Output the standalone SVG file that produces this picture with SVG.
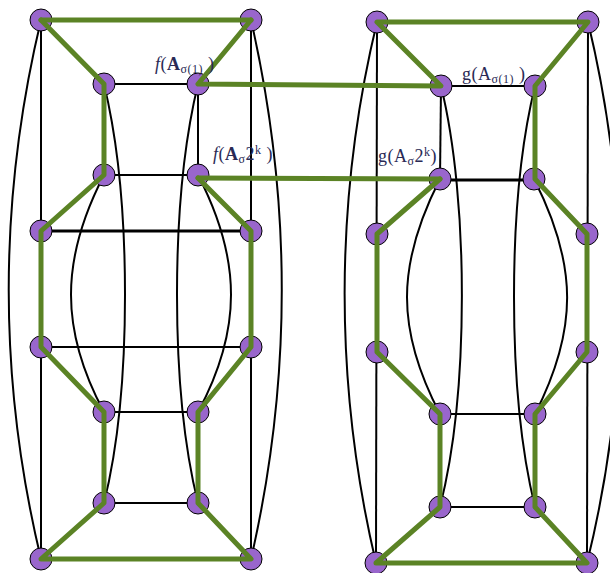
<svg xmlns="http://www.w3.org/2000/svg" width="610" height="573" viewBox="0 0 610 573">
<style>
.e{fill:none;stroke:#000;stroke-width:2}
.t{stroke-width:3}
.g{fill:none;stroke:#5b8325;stroke-width:5;stroke-linecap:round;stroke-linejoin:round}
.n{fill:#9966cc;stroke:#000;stroke-width:1}
.lb{font-family:"Liberation Serif",serif;font-size:18px;fill:#2a2a55;letter-spacing:0.5px}
.s{font-size:12px}
</style>
<rect width="610" height="573" fill="#fff"/>
<g id="edges">
<!-- left graph -->
<line class="e" x1="41" y1="20" x2="41" y2="559"/>
<line class="e" x1="251" y1="20" x2="251" y2="559"/>
<path class="e" d="M41,20 C-2,200 -2,380 41,559"/>
<path class="e" d="M251,20 C292,200 292,380 251,559"/>
<path class="e" d="M104,84 C132,200 132,390 104,503"/>
<path class="e" d="M104,175 C60,260 60,330 104,412"/>
<path class="e" d="M198,84 C170,200 170,390 198,503"/>
<path class="e" d="M198,175 C242,260 242,330 198,412"/>
<line class="e" x1="198" y1="84" x2="198" y2="175"/>
<line class="e" x1="104" y1="84" x2="198" y2="84"/>
<line class="e" x1="104" y1="175" x2="198" y2="175"/>
<line class="e t" x1="41" y1="231" x2="251" y2="231"/>
<line class="e" x1="41" y1="347" x2="251" y2="347"/>
<line class="e" x1="104" y1="412" x2="198" y2="412"/>
<line class="e" x1="104" y1="503" x2="198" y2="503"/>
<!-- right graph -->
<line class="e" x1="377" y1="22" x2="376" y2="563"/>
<line class="e" x1="588" y1="22" x2="587" y2="563"/>
<path class="e" d="M377,22 C334,200 334,385 376,563"/>
<path class="e" d="M588,22 C631,200 631,385 587,563"/>
<path class="e" d="M441,86 C469,200 469,393 440,507"/>
<path class="e" d="M440,179 C396,265 396,330 440,414"/>
<path class="e" d="M535,86 C507,200 507,393 535,507"/>
<path class="e" d="M534,179 C578,265 578,330 535,414"/>
<line class="e" x1="441" y1="86" x2="440" y2="179"/>
<line class="e" x1="441" y1="86" x2="535" y2="86"/>
<line class="e t" x1="440" y1="180" x2="534" y2="180"/>
<line class="e" x1="440" y1="414" x2="535" y2="414"/>
<line class="e" x1="440" y1="507" x2="535" y2="507"/>
</g>
<g id="nodes">
<g id="L1"><circle class="n" cx="41" cy="20" r="11"/></g>
<g id="L2"><circle class="n" cx="251" cy="20" r="11"/></g>
<g id="L3"><circle class="n" cx="104" cy="84" r="11"/></g>
<g id="L4"><circle class="n" cx="198" cy="84" r="11"/></g>
<g id="L5"><circle class="n" cx="104" cy="175" r="11"/></g>
<g id="L6"><circle class="n" cx="198" cy="175" r="11"/></g>
<g id="L7"><circle class="n" cx="41" cy="231" r="11"/></g>
<g id="L8"><circle class="n" cx="251" cy="231" r="11"/></g>
<g id="L9"><circle class="n" cx="41" cy="347" r="11"/></g>
<g id="L10"><circle class="n" cx="251" cy="347" r="11"/></g>
<g id="L11"><circle class="n" cx="104" cy="412" r="11"/></g>
<g id="L12"><circle class="n" cx="198" cy="412" r="11"/></g>
<g id="L13"><circle class="n" cx="104" cy="503" r="11"/></g>
<g id="L14"><circle class="n" cx="198" cy="503" r="11"/></g>
<g id="L15"><circle class="n" cx="41" cy="559" r="11"/></g>
<g id="L16"><circle class="n" cx="251" cy="559" r="11"/></g>
<g id="R1"><circle class="n" cx="377" cy="22" r="11"/></g>
<g id="R2"><circle class="n" cx="588" cy="22" r="11"/></g>
<g id="R3"><circle class="n" cx="441" cy="86" r="11"/></g>
<g id="R4"><circle class="n" cx="535" cy="86" r="11"/></g>
<g id="R5"><circle class="n" cx="440" cy="179" r="11"/></g>
<g id="R6"><circle class="n" cx="534" cy="179" r="11"/></g>
<g id="R7"><circle class="n" cx="377" cy="234" r="11"/></g>
<g id="R8"><circle class="n" cx="587" cy="234" r="11"/></g>
<g id="R9"><circle class="n" cx="377" cy="352" r="11"/></g>
<g id="R10"><circle class="n" cx="587" cy="352" r="11"/></g>
<g id="R11"><circle class="n" cx="440" cy="414" r="11"/></g>
<g id="R12"><circle class="n" cx="535" cy="414" r="11"/></g>
<g id="R13"><circle class="n" cx="440" cy="507" r="11"/></g>
<g id="R14"><circle class="n" cx="535" cy="507" r="11"/></g>
<g id="R15"><circle class="n" cx="376" cy="563" r="11"/></g>
<g id="R16"><circle class="n" cx="587" cy="563" r="11"/></g>
</g>
<g id="highlight">
<line class="g" x1="41" y1="20" x2="251" y2="20" stroke-width="3.5"/>
<polyline class="g" points="251,20 198,84 441,86 377,22 588,22 535,86 535,179 587,234 587,352 535,414 535,507 587,563 376,563 440,507 440,414 377,352 377,234 440,179"/>
<line class="g" x1="440" y1="179" x2="198" y2="178" stroke-width="3.5"/>
<polyline class="g" points="198,178 251,231 251,347 198,412 198,503 251,559 41,559 104,503 104,412 41,347 41,231 104,175 104,84 41,20"/>
</g>
<g id="labels">
<text class="lb" x="155" y="70"><tspan font-style="italic">f</tspan>(<tspan font-weight="bold">A</tspan><tspan class="s" dy="3">σ(1)</tspan><tspan dy="-3"> )</tspan></text>
<text class="lb" x="213" y="160"><tspan font-style="italic">f</tspan>(<tspan font-weight="bold">A</tspan><tspan class="s" dy="3">σ</tspan><tspan dy="-3">2</tspan><tspan class="s" dy="-6">k</tspan><tspan dy="6"> )</tspan></text>
<text class="lb" x="462" y="80">g(A<tspan class="s" dy="3">σ(1)</tspan><tspan dy="-3"> )</tspan></text>
<text class="lb" x="378" y="162">g(A<tspan class="s" dy="3">σ</tspan><tspan dy="-3">2</tspan><tspan class="s" dy="-6">k</tspan><tspan dy="6">)</tspan></text>
</g>
</svg>
